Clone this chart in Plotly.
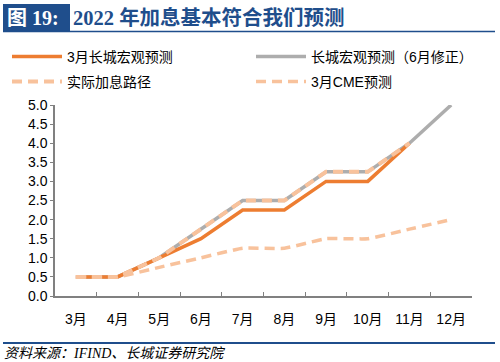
import plotly.graph_objects as go

months = ["3月", "4月", "5月", "6月", "7月", "8月", "9月", "10月", "11月", "12月"]
march_gw = [0.5, 0.5, 1.0, 1.5, 2.25, 2.25, 3.0, 3.0, 4.0, None]
june_gw = [0.5, 0.5, 1.0, 1.75, 2.5, 2.5, 3.25, 3.25, 4.0, 5.0]
actual = [0.5, 0.5, 1.0, 1.75, 2.5, 2.5, 3.25, 3.25, 4.0, None]
march_cme = [0.5, 0.5, 0.75, 1.0, 1.25, 1.25, 1.5, 1.5, 1.75, 2.0]

yticks = [0, 0.5, 1.0, 1.5, 2.0, 2.5, 3.0, 3.5, 4.0, 4.5, 5.0]

ORANGE = "#ED7D31"
GRAY = "#ADADAD"
PEACH = "#F8C29C"
BLUE = "#1F4E8C"
FONT = "Liberation Sans, Noto Sans CJK SC, sans-serif"
SERIF = "Liberation Serif, Noto Sans CJK SC"

# plot area in pixels
L, R, T, B = 55, 472, 105, 296
W, H = R - L, B - T


def px(x):
    return (x - L) / W


def py(y):
    return (B - y) / H


fig = go.Figure()
fig.add_trace(go.Scatter(x=months, y=june_gw, name="长城宏观预测（6月修正）", mode="lines",
                         line=dict(color=GRAY, width=3.5), legend="legend2"))
fig.add_trace(go.Scatter(x=months, y=march_gw, name="3月长城宏观预测", mode="lines",
                         line=dict(color=ORANGE, width=3.5), legend="legend"))
fig.add_trace(go.Scatter(x=months, y=actual, name="实际加息路径", mode="lines",
                         line=dict(color=PEACH, width=4, dash="10px,6px"), legend="legend3"))
fig.add_trace(go.Scatter(x=months, y=march_cme, name="3月CME预测", mode="lines",
                         line=dict(color=PEACH, width=3.5, dash="10px,6px", shape="spline", smoothing=0.4),
                         legend="legend4"))
for tr in fig.data:
    tr.showlegend = True

legend_common = dict(orientation="h", xanchor="left", yanchor="middle",
                     font=dict(size=14, family=FONT, color="#000"),
                     bgcolor="rgba(0,0,0,0)", itemwidth=50, visible=True)

fig.update_layout(
    width=500, height=362,
    showlegend=True,
    margin=dict(l=L, r=500 - R, t=T, b=362 - B, autoexpand=False),
    paper_bgcolor="white", plot_bgcolor="white",
    font=dict(family=FONT, size=14, color="#000"),
    legend=dict(x=px(7), y=py(57), **legend_common),
    legend2=dict(x=px(251), y=py(57), **legend_common),
    legend3=dict(x=px(7), y=py(82), **legend_common),
    legend4=dict(x=px(251), y=py(82), **legend_common),
    xaxis=dict(type="category", range=[-0.5, 9.5], showgrid=False, showline=True,
               linecolor="#808080", linewidth=1.5, ticks="inside", ticklen=4, tickcolor="#808080",
               tickson="boundaries", ticklabelstandoff=9, tickfont=dict(size=14)),
    yaxis=dict(range=[0, 5], tickvals=yticks, tickformat=".1f", showgrid=False, showline=True,
               linecolor="#808080", linewidth=1.5, ticks="outside", ticklen=3, tickcolor="#808080",
               zeroline=False, tickfont=dict(size=14)),
    shapes=[
        dict(type="rect", xref="paper", yref="paper",
             x0=px(3), x1=px(70), y0=py(31), y1=py(4),
             fillcolor=BLUE, line=dict(width=0)),
        dict(type="line", xref="paper", yref="paper",
             x0=px(3), x1=px(495), y0=py(31.5), y1=py(31.5),
             line=dict(color=BLUE, width=1.5)),
        dict(type="line", xref="paper", yref="paper",
             x0=px(3), x1=px(495), y0=py(343), y1=py(343),
             line=dict(color=BLUE, width=2)),
    ],
    annotations=[
        dict(text="<b>图 19:</b>", xref="paper", yref="paper", x=px(5), y=py(17.5),
             xanchor="left", yanchor="middle", showarrow=False,
             font=dict(family=SERIF, size=20, color="white")),
        dict(text="<b>2022 年加息基本符合我们预测</b>", xref="paper", yref="paper",
             x=px(71), y=py(17.5), xanchor="left", yanchor="middle", showarrow=False,
             font=dict(family=SERIF, size=20.5, color=BLUE)),
        dict(text="<i>资料来源：IFIND、长城证券研究院</i>", xref="paper", yref="paper",
             x=px(2), y=py(353), xanchor="left", yanchor="middle", showarrow=False,
             font=dict(family=SERIF, size=14, color="#000")),
    ],
)

fig.write_html("out.html", config={"displayModeBar": False},
               post_script="document.body.style.margin='0';document.body.style.overflow='hidden';")
